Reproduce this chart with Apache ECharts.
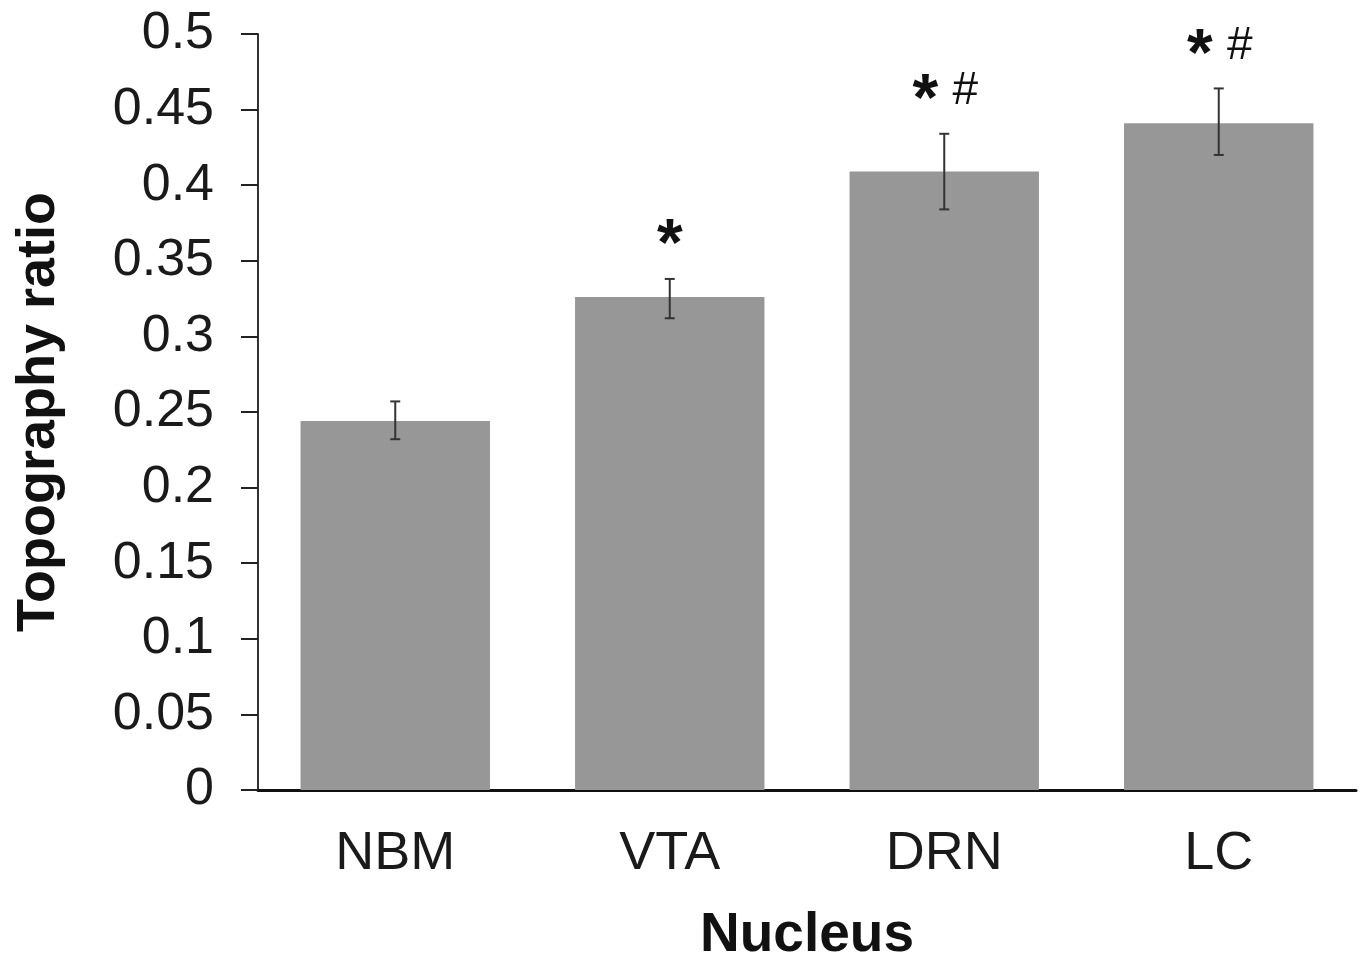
<!DOCTYPE html>
<html>
<head>
<meta charset="utf-8">
<title>Topography ratio</title>
<script src="https://cdn.jsdelivr.net/npm/echarts@6/dist/echarts.min.js"></script>
<style>
  html, body { margin: 0; padding: 0; background: #fff; }
  #main { width: 1365px; height: 960px; }
</style>
</head>
<body>
<div id="main"></div>
<script>
// data
var nuclei = ['NBM', 'VTA', 'DRN', 'LC'];
var ratio = [0.244, 0.326, 0.409, 0.441];
var errLow = [0.232, 0.312, 0.384, 0.420];
var errHigh = [0.257, 0.338, 0.434, 0.464];
var marks = ['', '*', '*#', '*#'];

var font = '"Liberation Sans", Arial, sans-serif';

var errData = nuclei.map(function (n, i) {
    return [i, errLow[i], errHigh[i]];
});

var myChart = echarts.init(document.getElementById('main'));

var option = {
    animation: false,
    grid: {
        left: 258,
        right: 9,
        top: 34,
        bottom: 170,
        outerBoundsMode: 'none'
    },
    xAxis: {
        type: 'category',
        data: nuclei,
        name: 'Nucleus',
        nameLocation: 'middle',
        nameGap: 118,
        nameTextStyle: {
            fontFamily: font,
            fontWeight: 'bold',
            fontSize: 55,
            color: '#111'
        },
        axisLine: { lineStyle: { color: '#111', width: 3 } },
        axisTick: { length: 17, lineStyle: { color: '#222', width: 2 } },
        axisLabel: {
            margin: 37,
            fontFamily: font,
            fontSize: 54,
            color: '#1a1a1a'
        }
    },
    yAxis: {
        type: 'value',
        min: 0,
        max: 0.5,
        interval: 0.05,
        name: 'Topography ratio',
        nameLocation: 'middle',
        nameGap: 192,
        nameTextStyle: {
            fontFamily: font,
            fontWeight: 'bold',
            fontSize: 54,
            color: '#111'
        },
        axisLine: { show: true, lineStyle: { color: '#333', width: 2 } },
        axisTick: { show: true, length: 17, lineStyle: { color: '#222', width: 2 } },
        splitLine: { show: false },
        axisLabel: {
            margin: 44,
            fontFamily: font,
            fontSize: 52,
            color: '#1a1a1a'
        }
    },
    series: [
        {
            name: 'Topography ratio',
            type: 'bar',
            data: ratio,
            barCategoryGap: '31%',
            itemStyle: { color: '#979797' }
        },
        {
            name: 'error',
            type: 'custom',
            data: errData,
            z: 10,
            renderItem: function (params, api) {
                var i = api.value(0);
                var lo = api.coord([i, api.value(1)]);
                var hi = api.coord([i, api.value(2)]);
                var cap = 5;
                var style = { stroke: '#333', lineWidth: 2 };
                var children = [
                    { type: 'line', shape: { x1: hi[0], y1: hi[1], x2: lo[0], y2: lo[1] }, style: style },
                    { type: 'line', shape: { x1: hi[0] - cap, y1: hi[1], x2: hi[0] + cap, y2: hi[1] }, style: style },
                    { type: 'line', shape: { x1: lo[0] - cap, y1: lo[1], x2: lo[0] + cap, y2: lo[1] }, style: style }
                ];
                var m = marks[params.dataIndex];
                var star = m.indexOf('*') >= 0;
                var hash = m.indexOf('#') >= 0;
                if (star) {
                    children.push({
                        type: 'text',
                        style: {
                            text: '*',
                            x: hi[0] + (hash ? -19 : 0),
                            y: hi[1] - 32,
                            align: 'center',
                            verticalAlign: 'middle',
                            fontFamily: font,
                            fontWeight: 'bold',
                            fontSize: 66,
                            fill: '#111'
                        }
                    });
                }
                if (hash) {
                    children.push({
                        type: 'text',
                        style: {
                            text: '#',
                            x: hi[0] + 21,
                            y: hi[1] - 42,
                            align: 'center',
                            verticalAlign: 'middle',
                            fontFamily: font,
                            fontSize: 46,
                            fill: '#111'
                        }
                    });
                }
                return { type: 'group', children: children };
            }
        }
    ]
};

myChart.setOption(option);
</script>
</body>
</html>
